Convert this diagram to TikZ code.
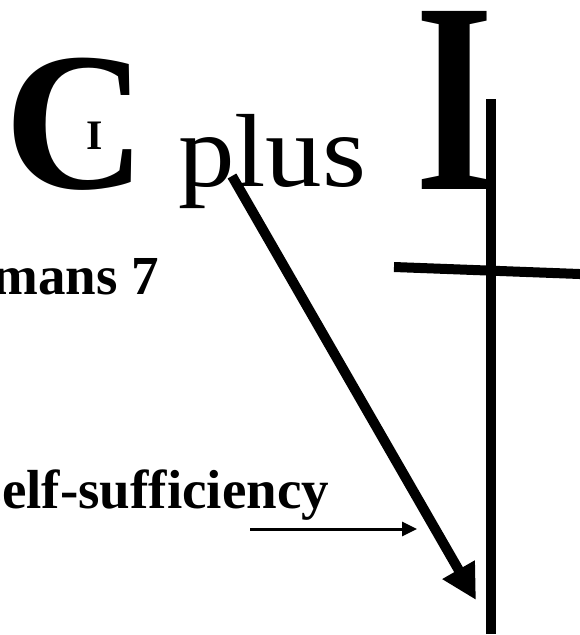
\documentclass[tikz,border=0pt]{standalone}
\usepackage{fontspec}
\usepackage{graphicx}
\setmainfont{Liberation Serif}
\usetikzlibrary{arrows.meta}
\tikzset{
  txt/.style={inner sep=0pt, outer sep=0pt},
  thick line/.style={line width=10pt},
  thin arrow/.style={line width=3pt, -{Triangle[length=15pt,width=14pt]}},
  big arrow/.style={line width=10pt, -{Triangle[length=35pt,width=35pt]}}
}
\begin{document}
\begin{tikzpicture}[x=1pt,y=-1pt]
\useasboundingbox (0,0) rectangle (579,635);
% big letters
\node[txt, anchor=base west] (bigC) at (5,188) {\fontsize{197}{200}\selectfont\bfseries C};
\node[txt, anchor=base west] (smallI) at (86,149) {\fontsize{42}{44}\selectfont\bfseries I};
\node[txt, anchor=base west] (plus) at (178,186) {\scalebox{1}[0.92]{\fontsize{113}{115}\selectfont plus}};
\node[txt, anchor=base west] (bigI) at (415,189) {\scalebox{0.74}[1]{\fontsize{272}{275}\selectfont\bfseries I}};
% side texts
\node[txt, anchor=base east] (romans) at (159,294) {\fontsize{55}{58}\selectfont\bfseries Romans 7};
\node[txt, anchor=base east] (self) at (329,508) {\fontsize{55}{58}\selectfont\bfseries self-sufficiency};
% cross
\coordinate (vtop) at (490.5,99);
\coordinate (vbot) at (490.5,634);
\coordinate (cleft) at (394,267);
\coordinate (cright) at (590,274.4);
\draw[thick line] (vtop) -- (vbot);
\draw[thick line] (cleft) -- (cright);
% arrows
\coordinate (bstart) at (232,176);
\coordinate (btip) at (476,600);
\draw[big arrow] (bstart) -- (btip);
\coordinate (sstart) at (250,529);
\coordinate (stip) at (417,529);
\draw[thin arrow] (sstart) -- (stip);
\end{tikzpicture}
\end{document}
